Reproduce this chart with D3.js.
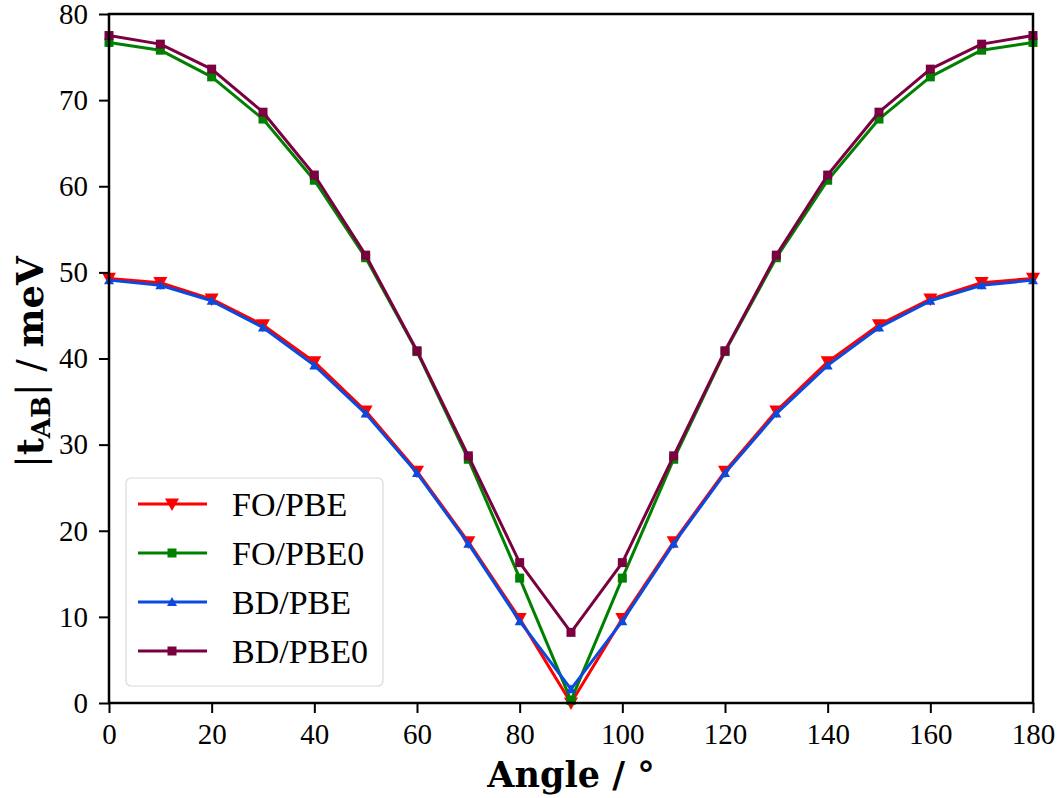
<!DOCTYPE html>
<html>
<head>
  <script src="https://d3js.org/d3.v7.min.js"></script>
  <style>
    body { margin: 0; background: #fff; }
    text { font-family: "Liberation Serif", "DejaVu Serif", serif; }
  </style>
</head>
<body>
  <svg id="chart" width="1059" height="798"></svg>
  <script>
    // angles (degrees)
    const angles = [0, 10, 20, 30, 40, 50, 60, 70, 80, 90, 100, 110, 120, 130, 140, 150, 160, 170, 180];

    // |t_AB| in meV
    const foPBE   = [49.3, 48.8, 46.9, 43.9, 39.6, 33.9, 26.9, 18.7, 9.8, 0.0, 9.8, 18.7, 26.9, 33.9, 39.6, 43.9, 46.9, 48.8, 49.3];
    const foPBE0  = [76.7, 75.8, 72.7, 67.8, 60.7, 51.7, 40.8, 28.3, 14.5, 0.3, 14.5, 28.3, 40.8, 51.7, 60.7, 67.8, 72.7, 75.8, 76.7];
    const bdPBE   = [49.1, 48.5, 46.7, 43.6, 39.2, 33.6, 26.7, 18.5, 9.5, 1.6, 9.5, 18.5, 26.7, 33.6, 39.2, 43.6, 46.7, 48.5, 49.1];
    const bdPBE0  = [77.5, 76.5, 73.6, 68.6, 61.3, 52.0, 40.9, 28.7, 16.3, 8.2, 16.3, 28.7, 40.9, 52.0, 61.3, 68.6, 73.6, 76.5, 77.5];

    const xTicks = [0, 20, 40, 60, 80, 100, 120, 140, 160, 180];
    const yTicks = [0, 10, 20, 30, 40, 50, 60, 70, 80];

    const series = [
      { name: "FO/PBE",  values: foPBE,  color: "#ff0000", marker: "tridown", size: 14 },
      { name: "FO/PBE0", values: foPBE0, color: "#008000", marker: "square",  size: 9 },
      { name: "BD/PBE",  values: bdPBE,  color: "#0a4ade", marker: "triup",   size: 10 },
      { name: "BD/PBE0", values: bdPBE0, color: "#7b0040", marker: "square",  size: 9 }
    ];

    const svg = d3.select("#chart");
    const margin = { top: 14, right: 26, bottom: 95, left: 109 };
    const width = 1059 - margin.left - margin.right;
    const height = 798 - margin.top - margin.bottom;

    const x = d3.scaleLinear().domain([0, 180]).range([0, width]);
    const y = d3.scaleLinear().domain([0, 80]).range([height, 0]);

    const g = svg.append("g").attr("transform", `translate(${margin.left},${margin.top})`);

    // marker shapes
    function markerPath(type, s) {
      const h = s / 2;
      if (type === "square") return `M${-h},${-h}H${h}V${h}H${-h}Z`;
      if (type === "tridown") return `M${-h},${-h * 0.8}L${h},${-h * 0.8}L0,${h * 1.0}Z`;
      return `M${-h},${h * 0.8}L${h},${h * 0.8}L0,${-h * 1.0}Z`;
    }

    const line = d3.line().x((d, i) => x(angles[i])).y(d => y(d));

    series.forEach(s => {
      g.append("path")
        .datum(s.values)
        .attr("fill", "none")
        .attr("stroke", s.color)
        .attr("stroke-width", 3)
        .attr("stroke-linejoin", "round")
        .attr("d", line);
      g.selectAll(null)
        .data(s.values)
        .enter()
        .append("path")
        .attr("transform", (d, i) => `translate(${x(angles[i])},${y(d)})`)
        .attr("d", markerPath(s.marker, s.size))
        .attr("fill", s.color);
    });

    // axes
    const xAxis = g.append("g")
      .attr("transform", `translate(0,${height})`)
      .call(d3.axisBottom(x).tickValues(xTicks).tickSize(10).tickSizeOuter(0).tickPadding(10));
    const yAxis = g.append("g")
      .call(d3.axisLeft(y).tickValues(yTicks).tickSize(10).tickSizeOuter(0).tickPadding(11));
    [xAxis, yAxis].forEach(a => {
      a.select(".domain").remove();
      a.selectAll(".tick line").attr("stroke", "#000").attr("stroke-width", 2);
      a.selectAll(".tick text").attr("font-size", 29).attr("fill", "#000")
        .style("font-family", "'Liberation Serif', serif");
    });

    // frame
    g.append("rect")
      .attr("width", width)
      .attr("height", height)
      .attr("fill", "none")
      .attr("stroke", "#000")
      .attr("stroke-width", 2.5);

    // axis titles
    svg.append("text")
      .attr("x", margin.left + width / 2)
      .attr("y", 787)
      .attr("text-anchor", "middle")
      .attr("font-size", 35)
      .attr("font-weight", "bold")
      .style("font-family", "'DejaVu Serif', serif")
      .text("Angle / °");

    const yl = svg.append("text")
      .attr("transform", "translate(43,362) rotate(-90)")
      .attr("text-anchor", "middle")
      .attr("font-size", 37)
      .style("font-family", "'DejaVu Serif', serif");
    yl.append("tspan").text("|");
    yl.append("tspan").attr("font-weight", "bold").text("t");
    yl.append("tspan").attr("font-weight", "bold").attr("font-size", 26).attr("dy", 7).text("AB");
    yl.append("tspan").attr("dy", -7).text("| / ");
    yl.append("tspan").attr("font-weight", "bold").text("meV");

    // legend
    const lg = svg.append("g").attr("transform", "translate(126,478)");
    lg.append("rect")
      .attr("width", 257)
      .attr("height", 208)
      .attr("rx", 5)
      .attr("fill", "#fff")
      .attr("fill-opacity", 0.8)
      .attr("stroke", "#d9d9d9")
      .attr("stroke-width", 1.2);
    series.forEach((s, i) => {
      const row = lg.append("g").attr("transform", `translate(0,${26 + i * 49})`);
      row.append("line")
        .attr("x1", 12).attr("x2", 81)
        .attr("stroke", s.color).attr("stroke-width", 3);
      row.append("path")
        .attr("transform", "translate(46,0)")
        .attr("d", markerPath(s.marker, s.size))
        .attr("fill", s.color);
      row.append("text")
        .attr("x", 106)
        .attr("dy", "0.35em")
        .attr("font-size", 34)
        .text(s.name);
    });
  </script>
</body>
</html>
